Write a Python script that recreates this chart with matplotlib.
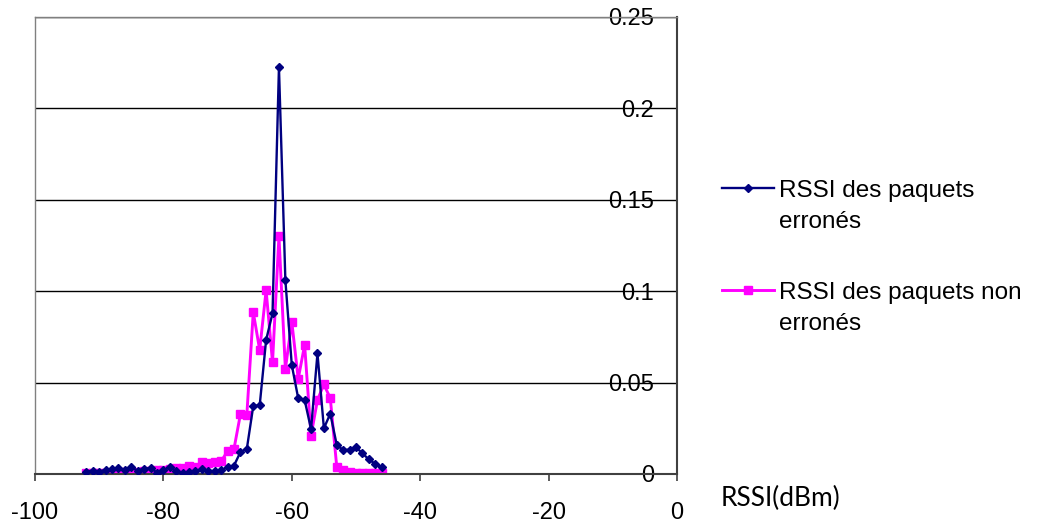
import matplotlib
import matplotlib.pyplot as plt

matplotlib.use('Agg')

plt.rcParams['font.family'] = ['Liberation Sans', 'DejaVu Sans']
plt.rcParams['axes.unicode_minus'] = False

# === data ===
rssi = [-92, -91, -90, -89, -88, -87, -86, -85, -84, -83,
        -82, -81, -80, -79, -78, -77, -76, -75, -74, -73,
        -72, -71, -70, -69, -68, -67, -66, -65, -64, -63,
        -62, -61, -60, -59, -58, -57, -56, -55, -54, -53,
        -52, -51, -50, -49, -48, -47, -46]

erronés = [0.0013, 0.0018, 0.0013, 0.0022, 0.0027, 0.0031, 0.0024, 0.0036, 0.0018, 0.0027,
           0.0033, 0.0008, 0.0022, 0.0036, 0.0018, 0.0004, 0.0013, 0.0015, 0.0027, 0.0018,
           0.0015, 0.0022, 0.0036, 0.0046, 0.0120, 0.0138, 0.0372, 0.0375, 0.0733, 0.0879,
           0.2225, 0.1060, 0.0596, 0.0414, 0.0405, 0.0245, 0.0660, 0.0250, 0.0330, 0.0159,
           0.0131, 0.0133, 0.0146, 0.0113, 0.0080, 0.0055, 0.0036]

non_erronés = [0.0003, 0.0003, 0.0004, 0.0005, 0.0006, 0.0008, 0.0009, 0.0011, 0.0013, 0.0015,
               0.0017, 0.0020, 0.0024, 0.0028, 0.0034, 0.0033, 0.0042, 0.0040, 0.0064, 0.0060,
               0.0068, 0.0070, 0.0125, 0.0138, 0.0327, 0.0325, 0.0885, 0.0678, 0.1005, 0.0611,
               0.1300, 0.0574, 0.0833, 0.0520, 0.0706, 0.0210, 0.0405, 0.0490, 0.0414, 0.0040,
               0.0022, 0.0013, 0.0008, 0.0006, 0.0005, 0.0005, 0.0005]

labels = ['RSSI des paquets\nerronés', 'RSSI des paquets non\nerronés']
x_ticks = [-100, -80, -60, -40, -20, 0]
y_ticks = [0, 0.05, 0.1, 0.15, 0.2, 0.25]
y_tick_labels = ['0', '0.05', '0.1', '0.15', '0.2', '0.25']

# === figure ===
fig = plt.figure(figsize=(10.54, 5.27), dpi=100)
ax = fig.add_axes([0.0332, 0.1006, 0.6091, 0.8672])

ax.plot(rssi, erronés, color='#000080', lw=1.7, marker='D', ms=3.6,
        label=labels[0], zorder=3)
ax.plot(rssi, non_erronés, color='#FF00FF', lw=2.1, marker='s', ms=5.5,
        label=labels[1], zorder=2)

ax.set_xlim(-100, 0)
ax.set_ylim(0, 0.25)
ax.set_xticks(x_ticks)
ax.set_yticks(y_ticks)
ax.set_yticklabels(y_tick_labels)

# grille horizontale noire, cadre gris facon Excel
ax.grid(axis='y', color='black', lw=1.0)
ax.set_axisbelow(True)
for side in ['left', 'top']:
    ax.spines[side].set_color('#808080')
    ax.spines[side].set_linewidth(1.0)
ax.spines['right'].set_color('#404040')
ax.spines['right'].set_linewidth(1.5)
ax.spines['bottom'].set_color('#404040')
ax.spines['bottom'].set_linewidth(1.5)

ax.tick_params(axis='x', direction='out', length=5, width=1.2, color='#404040',
               labelsize=17, pad=15)
# etiquettes de l'axe Y : a gauche de l'axe de droite
ax.tick_params(axis='y', left=False, right=False, labelleft=False, labelright=True,
               labelsize=17, pad=-20)
for t in ax.get_yticklabels():
    t.set_horizontalalignment('right')

# === legende ===
leg = ax.legend(loc='upper left', bbox_to_anchor=(1.055, 0.665), frameon=False,
                fontsize=17.5, handlelength=2.15, handletextpad=0.2, labelspacing=2.0,
                borderaxespad=0)
for t in leg.get_texts():
    t.set_linespacing(1.55)
# aligner le trait sur la premiere ligne du texte
for col in leg._legend_handle_box.get_children():
    for row in col.get_children():
        row.align = 'top'

fig.text(0.684, 0.055, 'RSSI(dBm)', fontsize=19, family=['Lato', 'DejaVu Sans'],
         va='center', ha='left')

plt.savefig('out.png', dpi=100)
plt.close()
